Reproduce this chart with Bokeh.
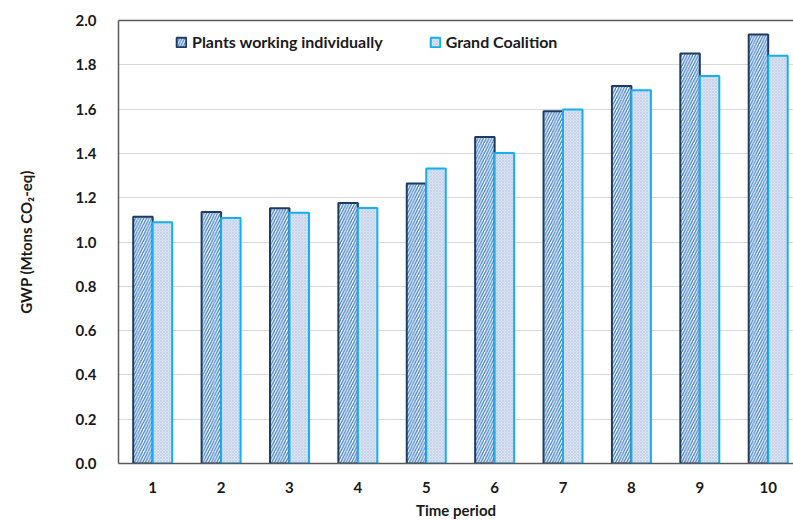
from bokeh.plotting import figure
from bokeh.models import (ColumnDataSource, FixedTicker, Range1d, LinearAxis,
                          Legend, LegendItem, CustomJSTickFormatter)
from bokeh.transform import dodge
from bokeh.embed import file_html
from bokeh.resources import INLINE

# GWP per time period (Mtons CO2-eq)
periods = [1, 2, 3, 4, 5, 6, 7, 8, 9, 10]
individual = [1.114, 1.135, 1.152, 1.176, 1.264, 1.474, 1.590, 1.704, 1.851, 1.937]
coalition = [1.089, 1.108, 1.132, 1.153, 1.332, 1.402, 1.598, 1.685, 1.749, 1.841]
y_ticks = [0.0, 0.2, 0.4, 0.6, 0.8, 1.0, 1.2, 1.4, 1.6, 1.8, 2.0]

src = ColumnDataSource(dict(period=periods, individual=individual, coalition=coalition))

FONT = "Lato"

p = figure(width=793, height=521, output_backend="svg", toolbar_location=None,
           x_range=Range1d(0.5, 10.37), y_range=Range1d(0, 2.0),
           min_border_left=118, min_border_right=0, min_border_top=20,
           min_border_bottom=55)
p.outline_line_color = None
p.background_fill_color = "white"
p.border_fill_color = "white"

bw = 0.285
r1 = p.vbar(x=dodge("period", -bw / 2, range=p.x_range), top="individual", width=bw,
            source=src, fill_color="white", line_color="#1f3b63", line_width=2,
            hatch_pattern="/", hatch_color="#3a7bc8", hatch_scale=5.5, hatch_weight=1.3)
r2 = p.vbar(x=dodge("period", bw / 2, range=p.x_range), top="coalition", width=bw,
            source=src, fill_color="#dbe3f2", line_color="#12b0ee", line_width=2,
            hatch_pattern="x", hatch_color="#b9c9e6", hatch_scale=3, hatch_weight=0.6)

# axes
p.xaxis.ticker = FixedTicker(ticks=periods)
p.yaxis.ticker = FixedTicker(ticks=y_ticks)
p.yaxis.formatter = CustomJSTickFormatter(code="return tick.toFixed(1);")

for ax in (p.xaxis[0], p.yaxis[0]):
    ax.axis_line_color = "#5a5a5a"
    ax.axis_line_width = 1.5
    ax.major_tick_line_color = None
    ax.minor_tick_line_color = None
    ax.major_label_text_font = FONT
    ax.major_label_text_font_style = "bold"
    ax.major_label_text_font_size = "15px"
    ax.major_label_text_color = "#1a1a1a"
    ax.axis_label_text_font = FONT
    ax.axis_label_text_font_style = "bold"
    ax.axis_label_text_font_size = "15px"
    ax.axis_label_text_color = "#1a1a1a"

p.xaxis.axis_label = "Time period"
p.xaxis.major_label_standoff = 12
p.xaxis.axis_label_standoff = 5
p.yaxis.axis_label = "GWP (Mtons CO\u2082-eq)"
p.yaxis.major_label_standoff = 16
p.yaxis.axis_label_standoff = 38

# top border line
top = LinearAxis(ticker=FixedTicker(ticks=[]), axis_line_color="#5a5a5a",
                 axis_line_width=1.5, major_label_text_font_size="0px")
p.add_layout(top, "above")

p.xgrid.grid_line_color = None
p.ygrid.grid_line_color = "#d9d9d9"
p.ygrid.grid_line_width = 1

legend = Legend(items=[LegendItem(label="Plants working individually", renderers=[r1]),
                       LegendItem(label="Grand Coalition", renderers=[r2])],
                orientation="horizontal", location=(57, 412))
legend.border_line_color = None
legend.background_fill_alpha = 0
legend.padding = 0
legend.margin = 0
legend.spacing = 46
legend.glyph_width = 12
legend.glyph_height = 12
legend.label_standoff = 5
legend.label_text_font = FONT
legend.label_text_font_style = "bold"
legend.label_text_font_size = "16px"
legend.label_text_color = "#1a1a1a"
p.add_layout(legend, "center")

open("out.html", "w").write(file_html(p, INLINE))
